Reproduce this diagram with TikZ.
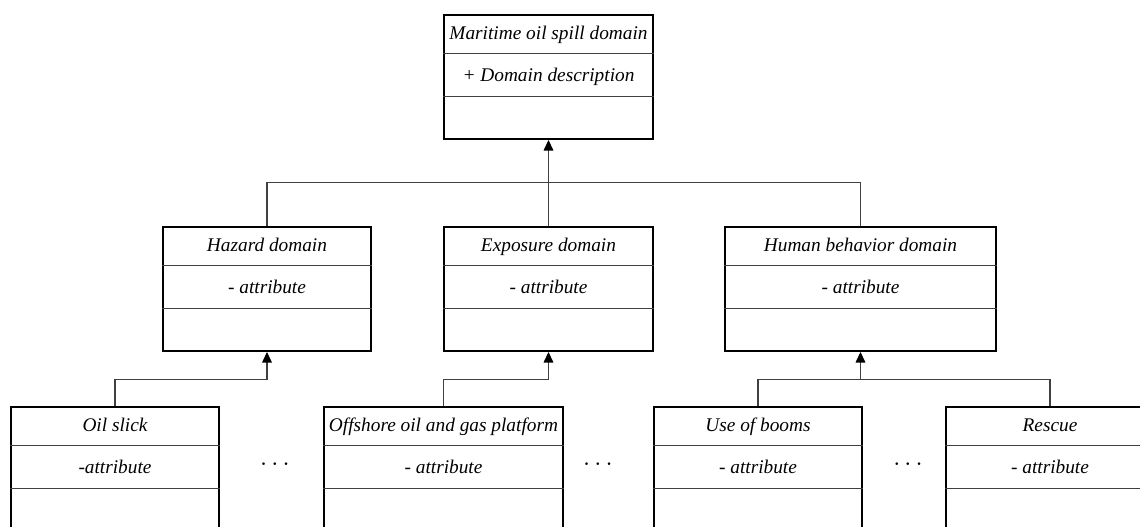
\documentclass[tikz,border=0pt]{standalone}
\usepackage{fontspec}
\setmainfont{Liberation Serif}
\usetikzlibrary{calc,arrows.meta}

% one unit = one pixel of the layout, y grows downwards
\newcommand{\classbox}[6]{%
  \node[classframe, minimum width=#4*0.02cm] (#1) at (#2,#3) {};
  \draw[divider] ($(#1.north west)+(0,39)$) -- ($(#1.north east)+(0,39)$);
  \draw[divider] ($(#1.north west)+(0,82)$) -- ($(#1.north east)+(0,82)$);
  \node[classtext] (#1-name) at ($(#1.north)+(0,25)$) {#5};
  \node[classtext] (#1-attr) at ($(#1.north)+(0,67)$) {#6};
}

\tikzset{
  classframe/.style={draw, line width=1.1pt, minimum height=124*0.02cm, inner sep=0pt},
  divider/.style={line width=0.6pt, black!75},
  classtext/.style={font=\fontsize{11}{13}\selectfont\itshape, inner sep=0pt, anchor=base},
  inherit/.style={line width=0.6pt, black!75, -{Triangle[length=6pt,width=5.5pt,color=black]}},
  branch/.style={line width=0.6pt, black!75},
  ellip/.style={font=\Large}
}

\begin{document}
\begin{tikzpicture}[x=0.02cm, y=-0.02cm]
  \clip (0,0) rectangle (1140,527);
  % Lớp gốc
  \classbox{top}{548.5}{77}{209}{Maritime oil spill domain}{+ Domain description}
  % Các miền con
  \classbox{hazard}{267}{289}{208}{Hazard domain}{- attribute}
  \classbox{exposure}{548.5}{289}{209}{Exposure domain}{- attribute}
  \classbox{human}{860.5}{289}{271}{Human behavior domain}{- attribute}
  % Hàng dưới
  \classbox{oil}{115}{469}{208}{Oil slick}{-attribute}
  \classbox{offshore}{443.5}{469}{239}{Offshore oil and gas platform}{- attribute}
  \classbox{booms}{758}{469}{208}{Use of booms}{- attribute}
  \classbox{rescue}{1050}{469}{208}{Rescue}{- attribute}
  \node[ellip] (dots1) at (275,465) {$\cdots$};
  \node[ellip] (dots2) at (598,465) {$\cdots$};
  \node[ellip] (dots3) at (908,465) {$\cdots$};
  % Điểm nối
  \coordinate (top-j) at ($(top.south)+(0,43)$);
  \coordinate (hazard-j) at ($(hazard.south)+(0,28)$);
  \coordinate (exposure-j) at ($(exposure.south)+(0,28)$);
  \coordinate (human-j) at ($(human.south)+(0,28)$);
  % Quan hệ kế thừa
  \draw[branch] (hazard.north) |- (top-j);
  \draw[branch] (human.north) |- (top-j);
  \draw[inherit] (exposure.north) -- (top.south);
  \draw[inherit] (oil.north) |- (hazard-j) -- (hazard.south);
  \draw[inherit] (offshore.north) |- (exposure-j) -- (exposure.south);
  \draw[branch] (booms.north) |- (human-j);
  \draw[branch] (rescue.north) |- (human-j);
  \draw[inherit] (human-j) -- (human.south);
\end{tikzpicture}
\end{document}
